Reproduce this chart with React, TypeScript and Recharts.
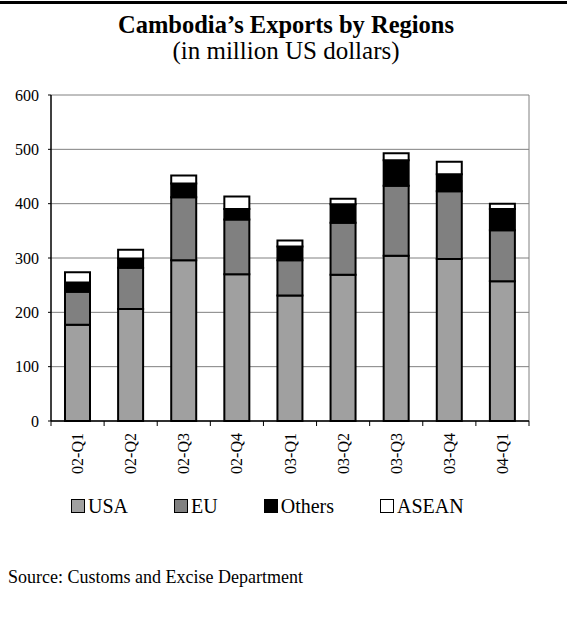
import React from "react";
import { BarChart, Bar, XAxis, YAxis, CartesianGrid } from "recharts";

const categories = ["02-Q1", "02-Q2", "02-Q3", "02-Q4", "03-Q1", "03-Q2", "03-Q3", "03-Q4", "04-Q1"];
const usa = [177, 206, 296, 270, 231, 269, 304, 298, 257];
const eu = [61, 76, 116, 101, 65, 96, 129, 125, 94];
const others = [17, 17, 25, 19, 25, 34, 47, 31, 39];
const asean = [19, 16, 15, 23, 11, 10, 13, 23, 10];
const yTicks = [0, 100, 200, 300, 400, 500, 600];

const seriesNames = ["USA", "EU", "Others", "ASEAN"];
const seriesColors = ["#a0a0a0", "#808080", "#000000", "#ffffff"];

const data = categories.map((c, i) => ({
  cat: c,
  USA: usa[i],
  EU: eu[i],
  Others: others[i],
  ASEAN: asean[i],
}));

const FONT = "'Liberation Serif', 'Times New Roman', serif";

const XTick = (props: any) => {
  const { x, y, payload, index } = props;
  const half = payload && typeof payload.offset === "number" ? payload.offset : 26.5;
  const ly = y + 12;
  return (
    <g>
      <line x1={x - half} y1={y} x2={x - half} y2={y + 5} stroke="#000" strokeWidth={1} />
      {index === categories.length - 1 && (
        <line x1={x + half} y1={y} x2={x + half} y2={y + 5} stroke="#000" strokeWidth={1} />
      )}
      <text
        x={x}
        y={ly}
        dy="0.35em"
        transform={`rotate(-90, ${x}, ${ly})`}
        textAnchor="end"
        fontFamily={FONT}
        fontSize={16}
        fill="#000"
      >
        {payload.value}
      </text>
    </g>
  );
};

export default function App() {
  return (
    <div
      style={{
        position: "absolute",
        left: 0,
        top: 0,
        width: 572,
        height: 642,
        background: "#fff",
        fontFamily: FONT,
        color: "#000",
      }}
    >
      <div style={{ position: "absolute", left: 0, top: 1, width: 567, height: 3, background: "#000" }} />
      <div
        style={{
          position: "absolute",
          left: 0,
          top: 12,
          width: 572,
          textAlign: "center",
          fontSize: 24.5,
          fontWeight: "bold",
          lineHeight: "26px",
        }}
      >
        Cambodia’s Exports by Regions
      </div>
      <div
        style={{
          position: "absolute",
          left: 0,
          top: 38,
          width: 572,
          textAlign: "center",
          fontSize: 25,
          lineHeight: "26px",
        }}
      >
        (in million US dollars)
      </div>
      <div style={{ position: "absolute", left: 0, top: 0 }}>
        <BarChart
          width={572}
          height={480}
          data={data}
          margin={{ top: 95, right: 43, bottom: 4, left: 0 }}
          barSize={25}
        >
          <CartesianGrid
            stroke="#808080"
            strokeWidth={1}
            vertical={true}
            verticalCoordinatesGenerator={(p: any) => [p.offset.left + p.offset.width]}
          />
          <XAxis
            dataKey="cat"
            height={55}
            tickLine={false}
            tickSize={0}
            tickMargin={0}
            axisLine={{ stroke: "#000", strokeWidth: 1.5 }}
            tick={<XTick />}
            interval={0}
          />
          <YAxis
            width={51}
            domain={[0, 600]}
            ticks={yTicks}
            interval={0}
            tickSize={3}
            tickMargin={9}
            axisLine={{ stroke: "#000", strokeWidth: 1.5 }}
            tickLine={{ stroke: "#000" }}
            tick={{ fill: "#000", fontFamily: FONT, fontSize: 16 }}
          />
          {seriesNames.map((s, i) => (
            <Bar
              key={s}
              dataKey={s}
              stackId="a"
              fill={seriesColors[i]}
              stroke="#000"
              strokeWidth={2}
              isAnimationActive={false}
            />
          ))}
        </BarChart>
      </div>
      <div
        style={{
          position: "absolute",
          left: 71,
          top: 496,
          display: "flex",
          alignItems: "center",
          gap: 46,
          fontSize: 20,
          lineHeight: "20px",
        }}
      >
        {seriesNames.map((s, i) => (
          <div key={s} style={{ display: "flex", alignItems: "center" }}>
            <div
              style={{
                width: 14,
                height: 14,
                boxSizing: "border-box",
                border: "1.5px solid #000",
                background: seriesColors[i],
                marginRight: 3,
              }}
            />
            <span>{s}</span>
          </div>
        ))}
      </div>
      <div
        style={{
          position: "absolute",
          left: 8,
          top: 568,
          fontSize: 18,
          lineHeight: "18px",
          whiteSpace: "nowrap",
        }}
      >
        Source: Customs and Excise Department
      </div>
    </div>
  );
}
